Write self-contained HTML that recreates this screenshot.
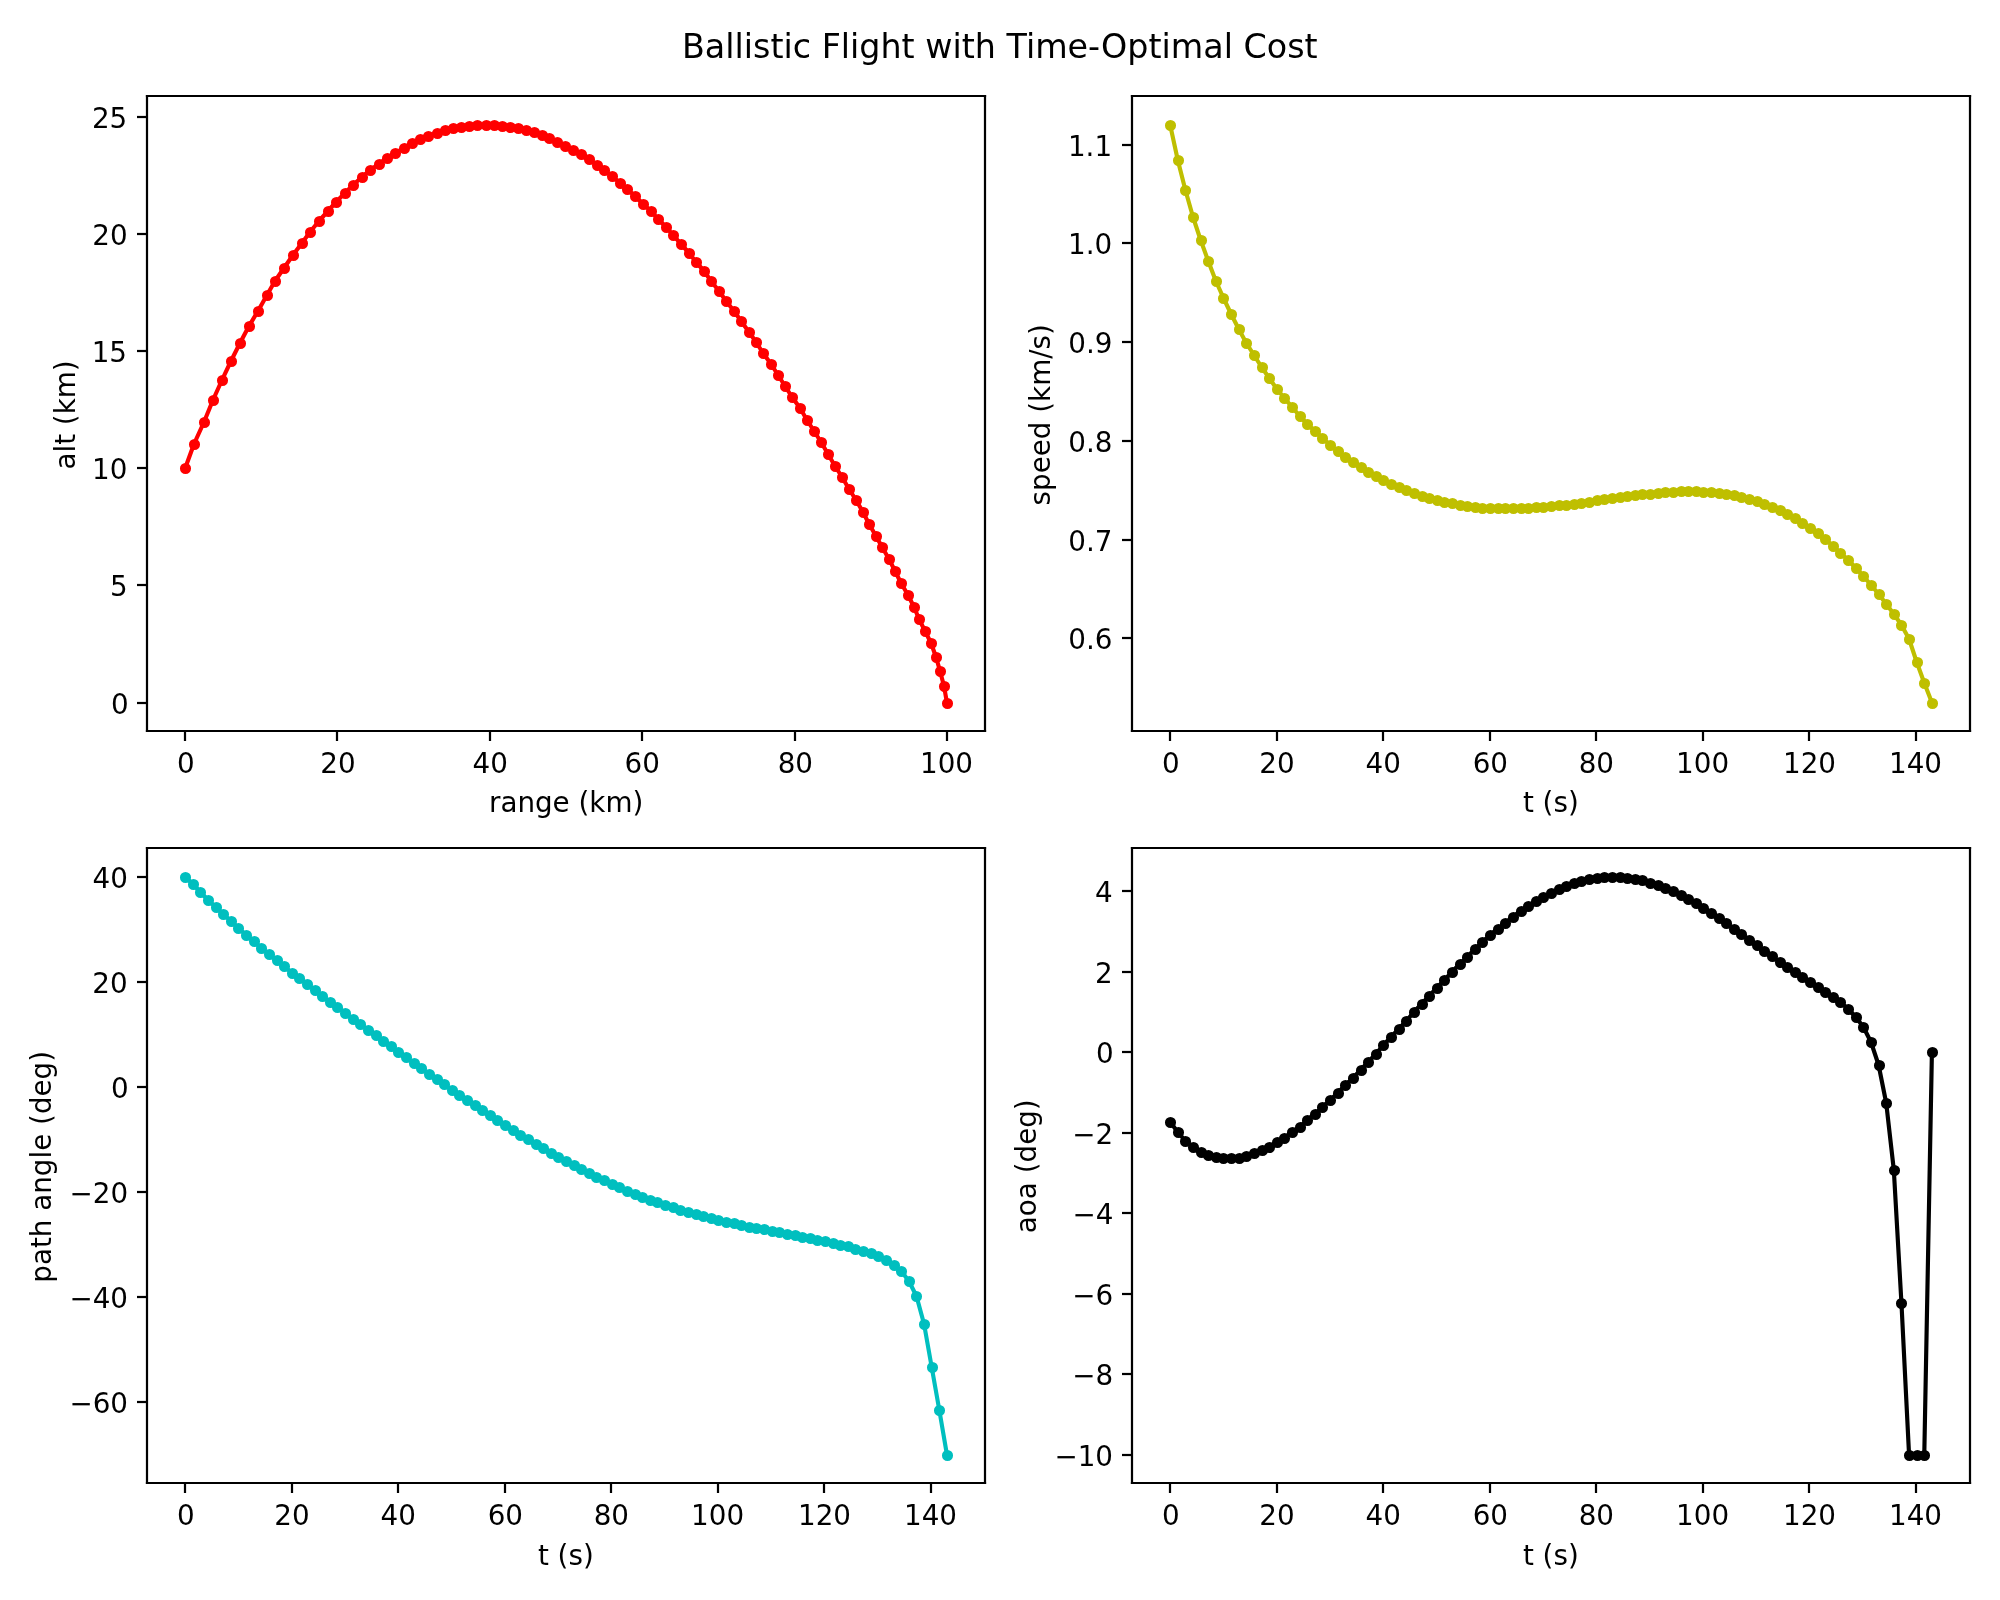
<!DOCTYPE html>
<html><head><meta charset="utf-8"><title>Ballistic Flight with Time-Optimal Cost</title>
<style>html,body{margin:0;padding:0;background:#fff;width:2000px;height:1600px;overflow:hidden}svg{display:block;will-change:transform}text{font-family:"DejaVu Sans","Liberation Sans",sans-serif;fill:#000}</style>
</head><body>
<svg width="2000" height="1600" viewBox="0 0 2000 1600">
<rect x="0" y="0" width="2000" height="1600" fill="#ffffff"/>
<polyline points="185.14,468.3 194,444 204,422 213,400 222,380 231,361 240,343 249,326 258,311 267,295 275,281 284,268 293,255 302,243 310,232 319,221 328,211 336,202 345,193 353,185 362,177 370,170 379,164 387,158 395,153 404,148 412,143 420,139 428,136 437,133 445,130 453,128 461,127 469,126 477,125 486,125 494,125 502,126 510,127 518,128 526,130 534,132 542,135 549,138 557,142 565,146 573,150 581,154 589,159 597,165 604,170 612,176 620,183 627,189 635,196 643,204 651,211 658,219 666,227 673,235 681,244 689,253 696,262 704,271 711,281 719,291 726,301 734,311 741,321 749,332 756,342 763,353 771,364 778,375 785,386 792,397 800,408 807,420 814,431 821,442 828,454 835,466 842,477 849,489 856,500 863,512 869,524 876,536 882,547 889,559 895,571 901,583 908,595 914,607 919,619 925,631 931,643 936,657 940,671 944,686 946.91,702.56" style="fill:none;stroke:#ff0000;stroke-width:4.1667;stroke-linecap:square;stroke-linejoin:round"/>
<g style="fill:#ff0000;stroke:#ff0000;stroke-width:2.7778">
<circle cx="185.5" cy="468.5" r="4.1667"/><circle cx="194.5" cy="444.5" r="4.1667"/><circle cx="204.5" cy="422.5" r="4.1667"/><circle cx="213.5" cy="400.5" r="4.1667"/><circle cx="222.5" cy="380.5" r="4.1667"/><circle cx="231.5" cy="361.5" r="4.1667"/><circle cx="240.5" cy="343.5" r="4.1667"/><circle cx="249.5" cy="326.5" r="4.1667"/><circle cx="258.5" cy="311.5" r="4.1667"/><circle cx="267.5" cy="295.5" r="4.1667"/><circle cx="275.5" cy="281.5" r="4.1667"/><circle cx="284.5" cy="268.5" r="4.1667"/><circle cx="293.5" cy="255.5" r="4.1667"/><circle cx="302.5" cy="243.5" r="4.1667"/><circle cx="310.5" cy="232.5" r="4.1667"/><circle cx="319.5" cy="221.5" r="4.1667"/><circle cx="328.5" cy="211.5" r="4.1667"/><circle cx="336.5" cy="202.5" r="4.1667"/><circle cx="345.5" cy="193.5" r="4.1667"/><circle cx="353.5" cy="185.5" r="4.1667"/><circle cx="362.5" cy="177.5" r="4.1667"/><circle cx="370.5" cy="170.5" r="4.1667"/><circle cx="379.5" cy="164.5" r="4.1667"/><circle cx="387.5" cy="158.5" r="4.1667"/><circle cx="395.5" cy="153.5" r="4.1667"/><circle cx="404.5" cy="148.5" r="4.1667"/><circle cx="412.5" cy="143.5" r="4.1667"/><circle cx="420.5" cy="139.5" r="4.1667"/><circle cx="428.5" cy="136.5" r="4.1667"/><circle cx="437.5" cy="133.5" r="4.1667"/><circle cx="445.5" cy="130.5" r="4.1667"/><circle cx="453.5" cy="128.5" r="4.1667"/><circle cx="461.5" cy="127.5" r="4.1667"/><circle cx="469.5" cy="126.5" r="4.1667"/><circle cx="477.5" cy="125.5" r="4.1667"/><circle cx="486.5" cy="125.5" r="4.1667"/><circle cx="494.5" cy="125.5" r="4.1667"/><circle cx="502.5" cy="126.5" r="4.1667"/><circle cx="510.5" cy="127.5" r="4.1667"/><circle cx="518.5" cy="128.5" r="4.1667"/><circle cx="526.5" cy="130.5" r="4.1667"/><circle cx="534.5" cy="132.5" r="4.1667"/><circle cx="542.5" cy="135.5" r="4.1667"/><circle cx="549.5" cy="138.5" r="4.1667"/><circle cx="557.5" cy="142.5" r="4.1667"/><circle cx="565.5" cy="146.5" r="4.1667"/><circle cx="573.5" cy="150.5" r="4.1667"/><circle cx="581.5" cy="154.5" r="4.1667"/><circle cx="589.5" cy="159.5" r="4.1667"/><circle cx="597.5" cy="165.5" r="4.1667"/><circle cx="604.5" cy="170.5" r="4.1667"/><circle cx="612.5" cy="176.5" r="4.1667"/><circle cx="620.5" cy="183.5" r="4.1667"/><circle cx="627.5" cy="189.5" r="4.1667"/><circle cx="635.5" cy="196.5" r="4.1667"/><circle cx="643.5" cy="204.5" r="4.1667"/><circle cx="651.5" cy="211.5" r="4.1667"/><circle cx="658.5" cy="219.5" r="4.1667"/><circle cx="666.5" cy="227.5" r="4.1667"/><circle cx="673.5" cy="235.5" r="4.1667"/><circle cx="681.5" cy="244.5" r="4.1667"/><circle cx="689.5" cy="253.5" r="4.1667"/><circle cx="696.5" cy="262.5" r="4.1667"/><circle cx="704.5" cy="271.5" r="4.1667"/><circle cx="711.5" cy="281.5" r="4.1667"/><circle cx="719.5" cy="291.5" r="4.1667"/><circle cx="726.5" cy="301.5" r="4.1667"/><circle cx="734.5" cy="311.5" r="4.1667"/><circle cx="741.5" cy="321.5" r="4.1667"/><circle cx="749.5" cy="332.5" r="4.1667"/><circle cx="756.5" cy="342.5" r="4.1667"/><circle cx="763.5" cy="353.5" r="4.1667"/><circle cx="771.5" cy="364.5" r="4.1667"/><circle cx="778.5" cy="375.5" r="4.1667"/><circle cx="785.5" cy="386.5" r="4.1667"/><circle cx="792.5" cy="397.5" r="4.1667"/><circle cx="800.5" cy="408.5" r="4.1667"/><circle cx="807.5" cy="420.5" r="4.1667"/><circle cx="814.5" cy="431.5" r="4.1667"/><circle cx="821.5" cy="442.5" r="4.1667"/><circle cx="828.5" cy="454.5" r="4.1667"/><circle cx="835.5" cy="466.5" r="4.1667"/><circle cx="842.5" cy="477.5" r="4.1667"/><circle cx="849.5" cy="489.5" r="4.1667"/><circle cx="856.5" cy="500.5" r="4.1667"/><circle cx="863.5" cy="512.5" r="4.1667"/><circle cx="869.5" cy="524.5" r="4.1667"/><circle cx="876.5" cy="536.5" r="4.1667"/><circle cx="882.5" cy="547.5" r="4.1667"/><circle cx="889.5" cy="559.5" r="4.1667"/><circle cx="895.5" cy="571.5" r="4.1667"/><circle cx="901.5" cy="583.5" r="4.1667"/><circle cx="908.5" cy="595.5" r="4.1667"/><circle cx="914.5" cy="607.5" r="4.1667"/><circle cx="919.5" cy="619.5" r="4.1667"/><circle cx="925.5" cy="631.5" r="4.1667"/><circle cx="931.5" cy="643.5" r="4.1667"/><circle cx="936.5" cy="657.5" r="4.1667"/><circle cx="940.5" cy="671.5" r="4.1667"/><circle cx="944.5" cy="686.5" r="4.1667"/><circle cx="947.5" cy="703.5" r="4.1667"/>
</g>
<g style="fill:none;stroke:#000000;stroke-width:2.22;stroke-linecap:square;stroke-linejoin:miter"><line x1="147" y1="731" x2="147" y2="96"/><line x1="985" y1="731" x2="985" y2="96"/><line x1="147" y1="731" x2="985" y2="731"/><line x1="147" y1="96" x2="985" y2="96"/></g>
<g style="fill:none;stroke:#000000;stroke-width:2.22;stroke-linecap:butt"><line x1="185" y1="731" x2="185" y2="741"/><line x1="337" y1="731" x2="337" y2="741"/><line x1="490" y1="731" x2="490" y2="741"/><line x1="642" y1="731" x2="642" y2="741"/><line x1="795" y1="731" x2="795" y2="741"/><line x1="947" y1="731" x2="947" y2="741"/><line x1="147" y1="703" x2="137" y2="703"/><line x1="147" y1="585" x2="137" y2="585"/><line x1="147" y1="468" x2="137" y2="468"/><line x1="147" y1="351" x2="137" y2="351"/><line x1="147" y1="234" x2="137" y2="234"/><line x1="147" y1="117" x2="137" y2="117"/></g>
<polyline points="1170.14,124.88 1177.76,160 1185.38,190 1193,217 1200.61,240 1208.23,261 1215.85,281 1223.47,298 1231.09,314 1238.7,329 1246.32,343 1253.94,355 1261.56,367 1269.17,378 1276.79,389 1284.41,398 1292.03,407 1299.64,416 1307.26,424 1314.88,431 1322.5,438 1330.12,445 1337.73,451 1345.35,457 1352.97,462 1360.59,467 1368.2,472 1375.82,476 1383.44,480 1391.06,484 1398.67,487 1406.29,490 1413.91,493 1421.53,496 1429.14,498 1436.76,500 1444.38,502 1452,503 1459.62,505 1467.23,506 1474.85,507 1482.47,508 1490.09,508 1497.7,508 1505.32,508 1512.94,508 1520.56,508 1528.17,508 1535.79,507 1543.41,507 1551.03,506 1558.65,505 1566.26,505 1573.88,504 1581.5,503 1589.12,502 1596.73,500 1604.35,499 1611.97,498 1619.59,497 1627.2,496 1634.82,495 1642.44,494 1650.06,494 1657.68,493 1665.29,492 1672.91,492 1680.53,491 1688.15,491 1695.76,491 1703.38,492 1711,492 1718.62,493 1726.23,494 1733.85,495 1741.47,497 1749.09,499 1756.71,501 1764.32,504 1771.94,507 1779.56,510 1787.18,514 1794.79,518 1802.41,523 1810.03,528 1817.65,533 1825.26,539 1832.88,546 1840.5,553 1848.12,560 1855.73,568 1863.35,576 1870.97,585 1878.59,594 1886.21,604 1893.82,614 1901.44,625 1909.06,639 1916.68,662 1924.29,683 1931.91,702.56" style="fill:none;stroke:#bfbf00;stroke-width:4.1667;stroke-linecap:square;stroke-linejoin:round"/>
<g style="fill:#bfbf00;stroke:#bfbf00;stroke-width:2.7778">
<circle cx="1170.5" cy="125.5" r="4.1667"/><circle cx="1178.5" cy="160.5" r="4.1667"/><circle cx="1185.5" cy="190.5" r="4.1667"/><circle cx="1193.5" cy="217.5" r="4.1667"/><circle cx="1201.5" cy="240.5" r="4.1667"/><circle cx="1208.5" cy="261.5" r="4.1667"/><circle cx="1216.5" cy="281.5" r="4.1667"/><circle cx="1223.5" cy="298.5" r="4.1667"/><circle cx="1231.5" cy="314.5" r="4.1667"/><circle cx="1239.5" cy="329.5" r="4.1667"/><circle cx="1246.5" cy="343.5" r="4.1667"/><circle cx="1254.5" cy="355.5" r="4.1667"/><circle cx="1262.5" cy="367.5" r="4.1667"/><circle cx="1269.5" cy="378.5" r="4.1667"/><circle cx="1277.5" cy="389.5" r="4.1667"/><circle cx="1284.5" cy="398.5" r="4.1667"/><circle cx="1292.5" cy="407.5" r="4.1667"/><circle cx="1300.5" cy="416.5" r="4.1667"/><circle cx="1307.5" cy="424.5" r="4.1667"/><circle cx="1315.5" cy="431.5" r="4.1667"/><circle cx="1322.5" cy="438.5" r="4.1667"/><circle cx="1330.5" cy="445.5" r="4.1667"/><circle cx="1338.5" cy="451.5" r="4.1667"/><circle cx="1345.5" cy="457.5" r="4.1667"/><circle cx="1353.5" cy="462.5" r="4.1667"/><circle cx="1361.5" cy="467.5" r="4.1667"/><circle cx="1368.5" cy="472.5" r="4.1667"/><circle cx="1376.5" cy="476.5" r="4.1667"/><circle cx="1383.5" cy="480.5" r="4.1667"/><circle cx="1391.5" cy="484.5" r="4.1667"/><circle cx="1399.5" cy="487.5" r="4.1667"/><circle cx="1406.5" cy="490.5" r="4.1667"/><circle cx="1414.5" cy="493.5" r="4.1667"/><circle cx="1422.5" cy="496.5" r="4.1667"/><circle cx="1429.5" cy="498.5" r="4.1667"/><circle cx="1437.5" cy="500.5" r="4.1667"/><circle cx="1444.5" cy="502.5" r="4.1667"/><circle cx="1452.5" cy="503.5" r="4.1667"/><circle cx="1460.5" cy="505.5" r="4.1667"/><circle cx="1467.5" cy="506.5" r="4.1667"/><circle cx="1475.5" cy="507.5" r="4.1667"/><circle cx="1482.5" cy="508.5" r="4.1667"/><circle cx="1490.5" cy="508.5" r="4.1667"/><circle cx="1498.5" cy="508.5" r="4.1667"/><circle cx="1505.5" cy="508.5" r="4.1667"/><circle cx="1513.5" cy="508.5" r="4.1667"/><circle cx="1521.5" cy="508.5" r="4.1667"/><circle cx="1528.5" cy="508.5" r="4.1667"/><circle cx="1536.5" cy="507.5" r="4.1667"/><circle cx="1543.5" cy="507.5" r="4.1667"/><circle cx="1551.5" cy="506.5" r="4.1667"/><circle cx="1559.5" cy="505.5" r="4.1667"/><circle cx="1566.5" cy="505.5" r="4.1667"/><circle cx="1574.5" cy="504.5" r="4.1667"/><circle cx="1581.5" cy="503.5" r="4.1667"/><circle cx="1589.5" cy="502.5" r="4.1667"/><circle cx="1597.5" cy="500.5" r="4.1667"/><circle cx="1604.5" cy="499.5" r="4.1667"/><circle cx="1612.5" cy="498.5" r="4.1667"/><circle cx="1620.5" cy="497.5" r="4.1667"/><circle cx="1627.5" cy="496.5" r="4.1667"/><circle cx="1635.5" cy="495.5" r="4.1667"/><circle cx="1642.5" cy="494.5" r="4.1667"/><circle cx="1650.5" cy="494.5" r="4.1667"/><circle cx="1658.5" cy="493.5" r="4.1667"/><circle cx="1665.5" cy="492.5" r="4.1667"/><circle cx="1673.5" cy="492.5" r="4.1667"/><circle cx="1681.5" cy="491.5" r="4.1667"/><circle cx="1688.5" cy="491.5" r="4.1667"/><circle cx="1696.5" cy="491.5" r="4.1667"/><circle cx="1703.5" cy="492.5" r="4.1667"/><circle cx="1711.5" cy="492.5" r="4.1667"/><circle cx="1719.5" cy="493.5" r="4.1667"/><circle cx="1726.5" cy="494.5" r="4.1667"/><circle cx="1734.5" cy="495.5" r="4.1667"/><circle cx="1741.5" cy="497.5" r="4.1667"/><circle cx="1749.5" cy="499.5" r="4.1667"/><circle cx="1757.5" cy="501.5" r="4.1667"/><circle cx="1764.5" cy="504.5" r="4.1667"/><circle cx="1772.5" cy="507.5" r="4.1667"/><circle cx="1780.5" cy="510.5" r="4.1667"/><circle cx="1787.5" cy="514.5" r="4.1667"/><circle cx="1795.5" cy="518.5" r="4.1667"/><circle cx="1802.5" cy="523.5" r="4.1667"/><circle cx="1810.5" cy="528.5" r="4.1667"/><circle cx="1818.5" cy="533.5" r="4.1667"/><circle cx="1825.5" cy="539.5" r="4.1667"/><circle cx="1833.5" cy="546.5" r="4.1667"/><circle cx="1840.5" cy="553.5" r="4.1667"/><circle cx="1848.5" cy="560.5" r="4.1667"/><circle cx="1856.5" cy="568.5" r="4.1667"/><circle cx="1863.5" cy="576.5" r="4.1667"/><circle cx="1871.5" cy="585.5" r="4.1667"/><circle cx="1879.5" cy="594.5" r="4.1667"/><circle cx="1886.5" cy="604.5" r="4.1667"/><circle cx="1894.5" cy="614.5" r="4.1667"/><circle cx="1901.5" cy="625.5" r="4.1667"/><circle cx="1909.5" cy="639.5" r="4.1667"/><circle cx="1917.5" cy="662.5" r="4.1667"/><circle cx="1924.5" cy="683.5" r="4.1667"/><circle cx="1932.5" cy="703.5" r="4.1667"/>
</g>
<g style="fill:none;stroke:#000000;stroke-width:2.22;stroke-linecap:square;stroke-linejoin:miter"><line x1="1132" y1="731" x2="1132" y2="96"/><line x1="1970" y1="731" x2="1970" y2="96"/><line x1="1132" y1="731" x2="1970" y2="731"/><line x1="1132" y1="96" x2="1970" y2="96"/></g>
<g style="fill:none;stroke:#000000;stroke-width:2.22;stroke-linecap:butt"><line x1="1170" y1="731" x2="1170" y2="741"/><line x1="1277" y1="731" x2="1277" y2="741"/><line x1="1383" y1="731" x2="1383" y2="741"/><line x1="1490" y1="731" x2="1490" y2="741"/><line x1="1596" y1="731" x2="1596" y2="741"/><line x1="1703" y1="731" x2="1703" y2="741"/><line x1="1809" y1="731" x2="1809" y2="741"/><line x1="1916" y1="731" x2="1916" y2="741"/><line x1="1132" y1="638" x2="1122" y2="638"/><line x1="1132" y1="540" x2="1122" y2="540"/><line x1="1132" y1="441" x2="1122" y2="441"/><line x1="1132" y1="342" x2="1122" y2="342"/><line x1="1132" y1="243" x2="1122" y2="243"/><line x1="1132" y1="145" x2="1122" y2="145"/></g>
<polyline points="185.14,876.88 192.76,884 200.38,892 208,900 215.61,907 223.23,914 230.85,921 238.47,928 246.09,935 253.7,941 261.32,948 268.94,954 276.56,960 284.17,966 291.79,973 299.41,978 307.03,984 314.64,990 322.26,996 329.88,1002 337.5,1007 345.12,1013 352.73,1019 360.35,1024 367.97,1030 375.59,1035 383.2,1041 390.82,1046 398.44,1052 406.06,1057 413.67,1063 421.29,1068 428.91,1074 436.53,1079 444.14,1084 451.76,1090 459.38,1095 467,1100 474.62,1105 482.23,1110 489.85,1115 497.47,1120 505.09,1125 512.7,1130 520.32,1135 527.94,1139 535.56,1144 543.17,1148 550.79,1153 558.41,1157 566.03,1161 573.65,1165 581.26,1169 588.88,1173 596.5,1177 604.12,1180 611.73,1184 619.35,1187 626.97,1191 634.59,1194 642.2,1197 649.82,1200 657.44,1202 665.06,1205 672.68,1207 680.29,1210 687.91,1212 695.53,1214 703.15,1216 710.76,1218 718.38,1220 726,1222 733.62,1223 741.23,1225 748.85,1227 756.47,1228 764.09,1229 771.71,1231 779.32,1232 786.94,1234 794.56,1235 802.18,1237 809.79,1238 817.41,1240 825.03,1241 832.65,1243 840.26,1245 847.88,1246 855.5,1249 863.12,1251 870.73,1253 878.35,1256 885.97,1260 893.59,1265 901.21,1271 908.82,1281 916.44,1296 924.06,1324 931.68,1367 939.29,1410 946.91,1454.56" style="fill:none;stroke:#00bfbf;stroke-width:4.1667;stroke-linecap:square;stroke-linejoin:round"/>
<g style="fill:#00bfbf;stroke:#00bfbf;stroke-width:2.7778">
<circle cx="185.5" cy="877.5" r="4.1667"/><circle cx="193.5" cy="884.5" r="4.1667"/><circle cx="200.5" cy="892.5" r="4.1667"/><circle cx="208.5" cy="900.5" r="4.1667"/><circle cx="216.5" cy="907.5" r="4.1667"/><circle cx="223.5" cy="914.5" r="4.1667"/><circle cx="231.5" cy="921.5" r="4.1667"/><circle cx="238.5" cy="928.5" r="4.1667"/><circle cx="246.5" cy="935.5" r="4.1667"/><circle cx="254.5" cy="941.5" r="4.1667"/><circle cx="261.5" cy="948.5" r="4.1667"/><circle cx="269.5" cy="954.5" r="4.1667"/><circle cx="277.5" cy="960.5" r="4.1667"/><circle cx="284.5" cy="966.5" r="4.1667"/><circle cx="292.5" cy="973.5" r="4.1667"/><circle cx="299.5" cy="978.5" r="4.1667"/><circle cx="307.5" cy="984.5" r="4.1667"/><circle cx="315.5" cy="990.5" r="4.1667"/><circle cx="322.5" cy="996.5" r="4.1667"/><circle cx="330.5" cy="1002.5" r="4.1667"/><circle cx="337.5" cy="1007.5" r="4.1667"/><circle cx="345.5" cy="1013.5" r="4.1667"/><circle cx="353.5" cy="1019.5" r="4.1667"/><circle cx="360.5" cy="1024.5" r="4.1667"/><circle cx="368.5" cy="1030.5" r="4.1667"/><circle cx="376.5" cy="1035.5" r="4.1667"/><circle cx="383.5" cy="1041.5" r="4.1667"/><circle cx="391.5" cy="1046.5" r="4.1667"/><circle cx="398.5" cy="1052.5" r="4.1667"/><circle cx="406.5" cy="1057.5" r="4.1667"/><circle cx="414.5" cy="1063.5" r="4.1667"/><circle cx="421.5" cy="1068.5" r="4.1667"/><circle cx="429.5" cy="1074.5" r="4.1667"/><circle cx="437.5" cy="1079.5" r="4.1667"/><circle cx="444.5" cy="1084.5" r="4.1667"/><circle cx="452.5" cy="1090.5" r="4.1667"/><circle cx="459.5" cy="1095.5" r="4.1667"/><circle cx="467.5" cy="1100.5" r="4.1667"/><circle cx="475.5" cy="1105.5" r="4.1667"/><circle cx="482.5" cy="1110.5" r="4.1667"/><circle cx="490.5" cy="1115.5" r="4.1667"/><circle cx="497.5" cy="1120.5" r="4.1667"/><circle cx="505.5" cy="1125.5" r="4.1667"/><circle cx="513.5" cy="1130.5" r="4.1667"/><circle cx="520.5" cy="1135.5" r="4.1667"/><circle cx="528.5" cy="1139.5" r="4.1667"/><circle cx="536.5" cy="1144.5" r="4.1667"/><circle cx="543.5" cy="1148.5" r="4.1667"/><circle cx="551.5" cy="1153.5" r="4.1667"/><circle cx="558.5" cy="1157.5" r="4.1667"/><circle cx="566.5" cy="1161.5" r="4.1667"/><circle cx="574.5" cy="1165.5" r="4.1667"/><circle cx="581.5" cy="1169.5" r="4.1667"/><circle cx="589.5" cy="1173.5" r="4.1667"/><circle cx="596.5" cy="1177.5" r="4.1667"/><circle cx="604.5" cy="1180.5" r="4.1667"/><circle cx="612.5" cy="1184.5" r="4.1667"/><circle cx="619.5" cy="1187.5" r="4.1667"/><circle cx="627.5" cy="1191.5" r="4.1667"/><circle cx="635.5" cy="1194.5" r="4.1667"/><circle cx="642.5" cy="1197.5" r="4.1667"/><circle cx="650.5" cy="1200.5" r="4.1667"/><circle cx="657.5" cy="1202.5" r="4.1667"/><circle cx="665.5" cy="1205.5" r="4.1667"/><circle cx="673.5" cy="1207.5" r="4.1667"/><circle cx="680.5" cy="1210.5" r="4.1667"/><circle cx="688.5" cy="1212.5" r="4.1667"/><circle cx="696.5" cy="1214.5" r="4.1667"/><circle cx="703.5" cy="1216.5" r="4.1667"/><circle cx="711.5" cy="1218.5" r="4.1667"/><circle cx="718.5" cy="1220.5" r="4.1667"/><circle cx="726.5" cy="1222.5" r="4.1667"/><circle cx="734.5" cy="1223.5" r="4.1667"/><circle cx="741.5" cy="1225.5" r="4.1667"/><circle cx="749.5" cy="1227.5" r="4.1667"/><circle cx="756.5" cy="1228.5" r="4.1667"/><circle cx="764.5" cy="1229.5" r="4.1667"/><circle cx="772.5" cy="1231.5" r="4.1667"/><circle cx="779.5" cy="1232.5" r="4.1667"/><circle cx="787.5" cy="1234.5" r="4.1667"/><circle cx="795.5" cy="1235.5" r="4.1667"/><circle cx="802.5" cy="1237.5" r="4.1667"/><circle cx="810.5" cy="1238.5" r="4.1667"/><circle cx="817.5" cy="1240.5" r="4.1667"/><circle cx="825.5" cy="1241.5" r="4.1667"/><circle cx="833.5" cy="1243.5" r="4.1667"/><circle cx="840.5" cy="1245.5" r="4.1667"/><circle cx="848.5" cy="1246.5" r="4.1667"/><circle cx="855.5" cy="1249.5" r="4.1667"/><circle cx="863.5" cy="1251.5" r="4.1667"/><circle cx="871.5" cy="1253.5" r="4.1667"/><circle cx="878.5" cy="1256.5" r="4.1667"/><circle cx="886.5" cy="1260.5" r="4.1667"/><circle cx="894.5" cy="1265.5" r="4.1667"/><circle cx="901.5" cy="1271.5" r="4.1667"/><circle cx="909.5" cy="1281.5" r="4.1667"/><circle cx="916.5" cy="1296.5" r="4.1667"/><circle cx="924.5" cy="1324.5" r="4.1667"/><circle cx="932.5" cy="1367.5" r="4.1667"/><circle cx="939.5" cy="1410.5" r="4.1667"/><circle cx="947.5" cy="1455.5" r="4.1667"/>
</g>
<g style="fill:none;stroke:#000000;stroke-width:2.22;stroke-linecap:square;stroke-linejoin:miter"><line x1="147" y1="1483" x2="147" y2="848"/><line x1="985" y1="1483" x2="985" y2="848"/><line x1="147" y1="1483" x2="985" y2="1483"/><line x1="147" y1="848" x2="985" y2="848"/></g>
<g style="fill:none;stroke:#000000;stroke-width:2.22;stroke-linecap:butt"><line x1="185" y1="1483" x2="185" y2="1493"/><line x1="292" y1="1483" x2="292" y2="1493"/><line x1="398" y1="1483" x2="398" y2="1493"/><line x1="505" y1="1483" x2="505" y2="1493"/><line x1="611" y1="1483" x2="611" y2="1493"/><line x1="718" y1="1483" x2="718" y2="1493"/><line x1="824" y1="1483" x2="824" y2="1493"/><line x1="931" y1="1483" x2="931" y2="1493"/><line x1="147" y1="1402" x2="137" y2="1402"/><line x1="147" y1="1297" x2="137" y2="1297"/><line x1="147" y1="1192" x2="137" y2="1192"/><line x1="147" y1="1087" x2="137" y2="1087"/><line x1="147" y1="982" x2="137" y2="982"/><line x1="147" y1="877" x2="137" y2="877"/></g>
<polyline points="1170.14,1122 1177.76,1132 1185.38,1141 1193,1147 1200.61,1152 1208.23,1155 1215.85,1157 1223.47,1158 1231.09,1158 1238.7,1158 1246.32,1156 1253.94,1153 1261.56,1150 1269.17,1147 1276.79,1142 1284.41,1138 1292.03,1132 1299.64,1127 1307.26,1120 1314.88,1114 1322.5,1107 1330.12,1100 1337.73,1093 1345.35,1085 1352.97,1078 1360.59,1070 1368.2,1062 1375.82,1054 1383.44,1045 1391.06,1037 1398.67,1029 1406.29,1021 1413.91,1012 1421.53,1004 1429.14,996 1436.76,988 1444.38,980 1452,972 1459.62,964 1467.23,957 1474.85,949 1482.47,942 1490.09,935 1497.7,929 1505.32,923 1512.94,917 1520.56,911 1528.17,906 1535.79,901 1543.41,897 1551.03,893 1558.65,889 1566.26,886 1573.88,883 1581.5,881 1589.12,879 1596.73,878 1604.35,877 1611.97,877 1619.59,877 1627.2,878 1634.82,879 1642.44,880 1650.06,883 1657.68,885 1665.29,888 1672.91,891 1680.53,895 1688.15,899 1695.76,903 1703.38,908 1711,913 1718.62,918 1726.23,923 1733.85,929 1741.47,934 1749.09,940 1756.71,945 1764.32,951 1771.94,956 1779.56,962 1787.18,967 1794.79,972 1802.41,977 1810.03,982 1817.65,987 1825.26,992 1832.88,997 1840.5,1002 1848.12,1009 1855.73,1017 1863.35,1027 1870.97,1042 1878.59,1065 1886.21,1103 1893.82,1170 1901.44,1303 1909.06,1454.56 1916.68,1454.56 1924.29,1454.56 1931.91,1052.31" style="fill:none;stroke:#000000;stroke-width:4.1667;stroke-linecap:square;stroke-linejoin:round"/>
<g style="fill:#000000;stroke:#000000;stroke-width:2.7778">
<circle cx="1170.5" cy="1122.5" r="4.1667"/><circle cx="1178.5" cy="1132.5" r="4.1667"/><circle cx="1185.5" cy="1141.5" r="4.1667"/><circle cx="1193.5" cy="1147.5" r="4.1667"/><circle cx="1201.5" cy="1152.5" r="4.1667"/><circle cx="1208.5" cy="1155.5" r="4.1667"/><circle cx="1216.5" cy="1157.5" r="4.1667"/><circle cx="1223.5" cy="1158.5" r="4.1667"/><circle cx="1231.5" cy="1158.5" r="4.1667"/><circle cx="1239.5" cy="1158.5" r="4.1667"/><circle cx="1246.5" cy="1156.5" r="4.1667"/><circle cx="1254.5" cy="1153.5" r="4.1667"/><circle cx="1262.5" cy="1150.5" r="4.1667"/><circle cx="1269.5" cy="1147.5" r="4.1667"/><circle cx="1277.5" cy="1142.5" r="4.1667"/><circle cx="1284.5" cy="1138.5" r="4.1667"/><circle cx="1292.5" cy="1132.5" r="4.1667"/><circle cx="1300.5" cy="1127.5" r="4.1667"/><circle cx="1307.5" cy="1120.5" r="4.1667"/><circle cx="1315.5" cy="1114.5" r="4.1667"/><circle cx="1322.5" cy="1107.5" r="4.1667"/><circle cx="1330.5" cy="1100.5" r="4.1667"/><circle cx="1338.5" cy="1093.5" r="4.1667"/><circle cx="1345.5" cy="1085.5" r="4.1667"/><circle cx="1353.5" cy="1078.5" r="4.1667"/><circle cx="1361.5" cy="1070.5" r="4.1667"/><circle cx="1368.5" cy="1062.5" r="4.1667"/><circle cx="1376.5" cy="1054.5" r="4.1667"/><circle cx="1383.5" cy="1045.5" r="4.1667"/><circle cx="1391.5" cy="1037.5" r="4.1667"/><circle cx="1399.5" cy="1029.5" r="4.1667"/><circle cx="1406.5" cy="1021.5" r="4.1667"/><circle cx="1414.5" cy="1012.5" r="4.1667"/><circle cx="1422.5" cy="1004.5" r="4.1667"/><circle cx="1429.5" cy="996.5" r="4.1667"/><circle cx="1437.5" cy="988.5" r="4.1667"/><circle cx="1444.5" cy="980.5" r="4.1667"/><circle cx="1452.5" cy="972.5" r="4.1667"/><circle cx="1460.5" cy="964.5" r="4.1667"/><circle cx="1467.5" cy="957.5" r="4.1667"/><circle cx="1475.5" cy="949.5" r="4.1667"/><circle cx="1482.5" cy="942.5" r="4.1667"/><circle cx="1490.5" cy="935.5" r="4.1667"/><circle cx="1498.5" cy="929.5" r="4.1667"/><circle cx="1505.5" cy="923.5" r="4.1667"/><circle cx="1513.5" cy="917.5" r="4.1667"/><circle cx="1521.5" cy="911.5" r="4.1667"/><circle cx="1528.5" cy="906.5" r="4.1667"/><circle cx="1536.5" cy="901.5" r="4.1667"/><circle cx="1543.5" cy="897.5" r="4.1667"/><circle cx="1551.5" cy="893.5" r="4.1667"/><circle cx="1559.5" cy="889.5" r="4.1667"/><circle cx="1566.5" cy="886.5" r="4.1667"/><circle cx="1574.5" cy="883.5" r="4.1667"/><circle cx="1581.5" cy="881.5" r="4.1667"/><circle cx="1589.5" cy="879.5" r="4.1667"/><circle cx="1597.5" cy="878.5" r="4.1667"/><circle cx="1604.5" cy="877.5" r="4.1667"/><circle cx="1612.5" cy="877.5" r="4.1667"/><circle cx="1620.5" cy="877.5" r="4.1667"/><circle cx="1627.5" cy="878.5" r="4.1667"/><circle cx="1635.5" cy="879.5" r="4.1667"/><circle cx="1642.5" cy="880.5" r="4.1667"/><circle cx="1650.5" cy="883.5" r="4.1667"/><circle cx="1658.5" cy="885.5" r="4.1667"/><circle cx="1665.5" cy="888.5" r="4.1667"/><circle cx="1673.5" cy="891.5" r="4.1667"/><circle cx="1681.5" cy="895.5" r="4.1667"/><circle cx="1688.5" cy="899.5" r="4.1667"/><circle cx="1696.5" cy="903.5" r="4.1667"/><circle cx="1703.5" cy="908.5" r="4.1667"/><circle cx="1711.5" cy="913.5" r="4.1667"/><circle cx="1719.5" cy="918.5" r="4.1667"/><circle cx="1726.5" cy="923.5" r="4.1667"/><circle cx="1734.5" cy="929.5" r="4.1667"/><circle cx="1741.5" cy="934.5" r="4.1667"/><circle cx="1749.5" cy="940.5" r="4.1667"/><circle cx="1757.5" cy="945.5" r="4.1667"/><circle cx="1764.5" cy="951.5" r="4.1667"/><circle cx="1772.5" cy="956.5" r="4.1667"/><circle cx="1780.5" cy="962.5" r="4.1667"/><circle cx="1787.5" cy="967.5" r="4.1667"/><circle cx="1795.5" cy="972.5" r="4.1667"/><circle cx="1802.5" cy="977.5" r="4.1667"/><circle cx="1810.5" cy="982.5" r="4.1667"/><circle cx="1818.5" cy="987.5" r="4.1667"/><circle cx="1825.5" cy="992.5" r="4.1667"/><circle cx="1833.5" cy="997.5" r="4.1667"/><circle cx="1840.5" cy="1002.5" r="4.1667"/><circle cx="1848.5" cy="1009.5" r="4.1667"/><circle cx="1856.5" cy="1017.5" r="4.1667"/><circle cx="1863.5" cy="1027.5" r="4.1667"/><circle cx="1871.5" cy="1042.5" r="4.1667"/><circle cx="1879.5" cy="1065.5" r="4.1667"/><circle cx="1886.5" cy="1103.5" r="4.1667"/><circle cx="1894.5" cy="1170.5" r="4.1667"/><circle cx="1901.5" cy="1303.5" r="4.1667"/><circle cx="1909.5" cy="1455.5" r="4.1667"/><circle cx="1917.5" cy="1455.5" r="4.1667"/><circle cx="1924.5" cy="1455.5" r="4.1667"/><circle cx="1932.5" cy="1052.5" r="4.1667"/>
</g>
<g style="fill:none;stroke:#000000;stroke-width:2.22;stroke-linecap:square;stroke-linejoin:miter"><line x1="1132" y1="1483" x2="1132" y2="848"/><line x1="1970" y1="1483" x2="1970" y2="848"/><line x1="1132" y1="1483" x2="1970" y2="1483"/><line x1="1132" y1="848" x2="1970" y2="848"/></g>
<g style="fill:none;stroke:#000000;stroke-width:2.22;stroke-linecap:butt"><line x1="1170" y1="1483" x2="1170" y2="1493"/><line x1="1277" y1="1483" x2="1277" y2="1493"/><line x1="1383" y1="1483" x2="1383" y2="1493"/><line x1="1490" y1="1483" x2="1490" y2="1493"/><line x1="1596" y1="1483" x2="1596" y2="1493"/><line x1="1703" y1="1483" x2="1703" y2="1493"/><line x1="1809" y1="1483" x2="1809" y2="1493"/><line x1="1916" y1="1483" x2="1916" y2="1493"/><line x1="1132" y1="1455" x2="1122" y2="1455"/><line x1="1132" y1="1374" x2="1122" y2="1374"/><line x1="1132" y1="1294" x2="1122" y2="1294"/><line x1="1132" y1="1213" x2="1122" y2="1213"/><line x1="1132" y1="1133" x2="1122" y2="1133"/><line x1="1132" y1="1052" x2="1122" y2="1052"/><line x1="1132" y1="972" x2="1122" y2="972"/><line x1="1132" y1="891" x2="1122" y2="891"/></g>
<text x="185.96" y="773.26" style="font-size:27.78px;text-anchor:middle">0</text>
<text x="337.9" y="773.49" style="font-size:27.78px;text-anchor:middle">20</text>
<text x="490.29" y="773.25" style="font-size:27.78px;text-anchor:middle">40</text>
<text x="642.24" y="772.94" style="font-size:27.78px;text-anchor:middle">60</text>
<text x="795.33" y="772.76" style="font-size:27.78px;text-anchor:middle">80</text>
<text x="946.53" y="773.25" style="font-size:27.78px;text-anchor:middle">100</text>
<text x="566.16" y="812.04" style="font-size:27.78px;text-anchor:middle">range (km)</text>
<text x="128.67" y="714.38" style="font-size:27.78px;text-anchor:end">0</text>
<text x="127.77" y="596.28" style="font-size:27.78px;text-anchor:end">5</text>
<text x="127.32" y="479.11" style="font-size:27.78px;text-anchor:end">10</text>
<text x="127.04" y="362.12" style="font-size:27.78px;text-anchor:end">15</text>
<text x="127.57" y="245.1" style="font-size:27.78px;text-anchor:end">20</text>
<text x="127.25" y="128.06" style="font-size:27.78px;text-anchor:end">25</text>
<text x="75.19" y="414.96" transform="rotate(-90 75.19 414.96)" style="font-size:27.78px;text-anchor:middle">alt (km)</text>
<text x="1170.96" y="773.26" style="font-size:27.78px;text-anchor:middle">0</text>
<text x="1276.9" y="773.49" style="font-size:27.78px;text-anchor:middle">20</text>
<text x="1383.29" y="773.25" style="font-size:27.78px;text-anchor:middle">40</text>
<text x="1490.3" y="772.94" style="font-size:27.78px;text-anchor:middle">60</text>
<text x="1596.32" y="772.76" style="font-size:27.78px;text-anchor:middle">80</text>
<text x="1702.59" y="773.25" style="font-size:27.78px;text-anchor:middle">100</text>
<text x="1809.51" y="773.42" style="font-size:27.78px;text-anchor:middle">120</text>
<text x="1915.54" y="773.24" style="font-size:27.78px;text-anchor:middle">140</text>
<text x="1550.83" y="812.07" style="font-size:27.78px;text-anchor:middle">t (s)</text>
<text x="1112.49" y="648.89" style="font-size:27.78px;text-anchor:end">0.6</text>
<text x="1112.48" y="550.54" style="font-size:27.78px;text-anchor:end">0.7</text>
<text x="1112.49" y="452.39" style="font-size:27.78px;text-anchor:end">0.8</text>
<text x="1112.51" y="352.64" style="font-size:27.78px;text-anchor:end">0.9</text>
<text x="1112.2" y="253.71" style="font-size:27.78px;text-anchor:end">1.0</text>
<text x="1112.13" y="155.57" style="font-size:27.78px;text-anchor:end">1.1</text>
<text x="1050.44" y="414.79" transform="rotate(-90 1050.44 414.79)" style="font-size:27.78px;text-anchor:middle">speed (km/s)</text>
<text x="185.96" y="1525.26" style="font-size:27.78px;text-anchor:middle">0</text>
<text x="291.9" y="1525.49" style="font-size:27.78px;text-anchor:middle">20</text>
<text x="398.29" y="1525.25" style="font-size:27.78px;text-anchor:middle">40</text>
<text x="505.3" y="1524.94" style="font-size:27.78px;text-anchor:middle">60</text>
<text x="611.32" y="1524.76" style="font-size:27.78px;text-anchor:middle">80</text>
<text x="717.59" y="1525.25" style="font-size:27.78px;text-anchor:middle">100</text>
<text x="824.51" y="1525.42" style="font-size:27.78px;text-anchor:middle">120</text>
<text x="930.54" y="1525.24" style="font-size:27.78px;text-anchor:middle">140</text>
<text x="565.83" y="1565.07" style="font-size:27.78px;text-anchor:middle">t (s)</text>
<text x="127.99" y="1413.08" style="font-size:27.78px;text-anchor:end">−60</text>
<text x="128.05" y="1307.65" style="font-size:27.78px;text-anchor:end">−40</text>
<text x="128.08" y="1202.82" style="font-size:27.78px;text-anchor:end">−20</text>
<text x="128.67" y="1097.77" style="font-size:27.78px;text-anchor:end">0</text>
<text x="127.57" y="992.97" style="font-size:27.78px;text-anchor:end">20</text>
<text x="127.94" y="887.69" style="font-size:27.78px;text-anchor:end">40</text>
<text x="50.95" y="1166.83" transform="rotate(-90 50.95 1166.83)" style="font-size:27.78px;text-anchor:middle">path angle (deg)</text>
<text x="1170.96" y="1525.26" style="font-size:27.78px;text-anchor:middle">0</text>
<text x="1276.9" y="1525.49" style="font-size:27.78px;text-anchor:middle">20</text>
<text x="1383.29" y="1525.25" style="font-size:27.78px;text-anchor:middle">40</text>
<text x="1490.3" y="1524.94" style="font-size:27.78px;text-anchor:middle">60</text>
<text x="1596.32" y="1524.76" style="font-size:27.78px;text-anchor:middle">80</text>
<text x="1702.59" y="1525.25" style="font-size:27.78px;text-anchor:middle">100</text>
<text x="1809.51" y="1525.42" style="font-size:27.78px;text-anchor:middle">120</text>
<text x="1915.54" y="1525.24" style="font-size:27.78px;text-anchor:middle">140</text>
<text x="1550.83" y="1565.07" style="font-size:27.78px;text-anchor:middle">t (s)</text>
<text x="1113.03" y="1466.2" style="font-size:27.78px;text-anchor:end">−10</text>
<text x="1113.16" y="1384.98" style="font-size:27.78px;text-anchor:end">−8</text>
<text x="1113.15" y="1304.89" style="font-size:27.78px;text-anchor:end">−6</text>
<text x="1113.33" y="1223.73" style="font-size:27.78px;text-anchor:end">−4</text>
<text x="1113.21" y="1143.71" style="font-size:27.78px;text-anchor:end">−2</text>
<text x="1113.67" y="1063.13" style="font-size:27.78px;text-anchor:end">0</text>
<text x="1112.65" y="983.25" style="font-size:27.78px;text-anchor:end">2</text>
<text x="1112.65" y="902.2" style="font-size:27.78px;text-anchor:end">4</text>
<text x="1035.8" y="1166.23" transform="rotate(-90 1035.8 1166.23)" style="font-size:27.78px;text-anchor:middle">aoa (deg)</text>
<text x="999.81" y="58.37" style="font-size:33.33px;text-anchor:middle">Ballistic Flight with Time-Optimal Cost</text>
</svg>
</body></html>
